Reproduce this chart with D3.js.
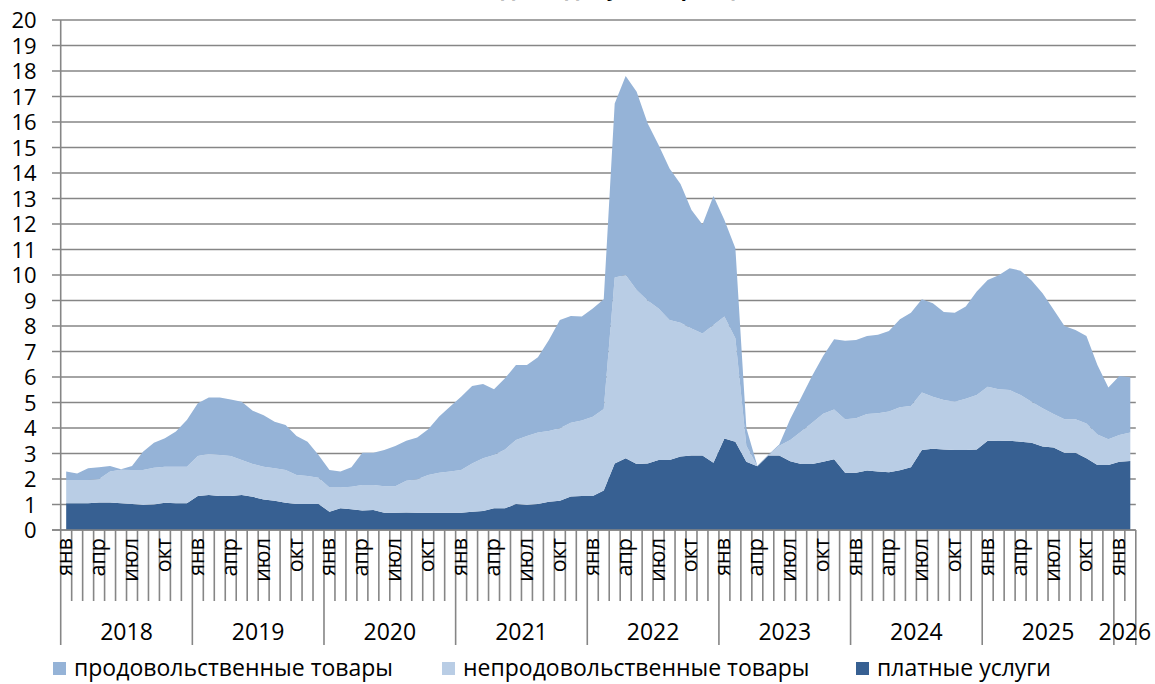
<!DOCTYPE html>
<html lang="ru">
<head>
	<meta charset="utf-8">
	<script src="https://d3js.org/d3.v7.min.js"></script>
	<style>
		body { margin: 0; background: #fff; }
		svg text { font-family: "Open Sans", sans-serif; fill: #000; }
		.grid line { stroke: #868686; stroke-width: 1.6px; }
		.xaxis line { stroke: #868686; stroke-width: 1.6px; }
		.tick-label { font-size: 22px; }
		.month-label { font-size: 21.5px; }
		.year-label { font-size: 23px; }
		.legend text { font-size: 23px; }
	</style>
	<title>Вклад в инфляцию</title>
</head>
<body>
<svg id="chart" width="1155" height="684"></svg>
<script>

// months from Jan 2018 to Feb 2026
var monthNames = ["янв", "фев", "мар", "апр", "май", "июн", "июл", "авг", "сен", "окт", "ноя", "дек"];
var years = [2018, 2019, 2020, 2021, 2022, 2023, 2024, 2025, 2026];
var monthCount = 98;

var services = [
	1.05, 1.05, 1.05, 1.08, 1.08, 1.05, 1.02, 0.98, 1.00, 1.07, 1.05, 1.05,
	1.33, 1.37, 1.33, 1.33, 1.37, 1.30, 1.20, 1.15, 1.07, 1.02, 1.02, 1.02,
	0.72, 0.85, 0.81, 0.76, 0.78, 0.68, 0.68, 0.69, 0.68, 0.68, 0.68, 0.68,
	0.68, 0.72, 0.75, 0.85, 0.85, 1.02, 0.98, 1.02, 1.11, 1.15, 1.31, 1.33,
	1.33, 1.55, 2.61, 2.81, 2.59, 2.61, 2.75, 2.75, 2.88, 2.92, 2.92, 2.64,
	3.59, 3.46, 2.68, 2.50, 2.92, 2.92, 2.70, 2.59, 2.59, 2.68, 2.77, 2.25,
	2.25, 2.33, 2.29, 2.26, 2.34, 2.46, 3.14, 3.19, 3.16, 3.14, 3.14, 3.16,
	3.50, 3.49, 3.50, 3.46, 3.42, 3.27, 3.24, 3.03, 3.03, 2.81, 2.55, 2.55,
	2.68, 2.71
];
var nonfood = [
	0.91, 0.91, 0.91, 0.92, 1.21, 1.31, 1.33, 1.37, 1.44, 1.41, 1.43, 1.43,
	1.57, 1.61, 1.61, 1.57, 1.38, 1.29, 1.28, 1.27, 1.28, 1.14, 1.10, 1.03,
	0.95, 0.82, 0.89, 1.00, 0.98, 1.04, 1.04, 1.24, 1.31, 1.48, 1.57, 1.61,
	1.67, 1.89, 2.06, 2.09, 2.31, 2.51, 2.71, 2.80, 2.77, 2.84, 2.90, 2.96,
	3.11, 3.20, 7.29, 7.19, 6.82, 6.39, 5.94, 5.49, 5.25, 4.98, 4.79, 5.40,
	4.78, 4.06, 0.62, 0.01, 0.01, 0.38, 0.83, 1.27, 1.62, 1.88, 1.96, 2.09,
	2.13, 2.22, 2.29, 2.39, 2.47, 2.40, 2.25, 2.04, 1.94, 1.89, 2.01, 2.13,
	2.12, 2.03, 1.99, 1.83, 1.61, 1.50, 1.31, 1.31, 1.31, 1.37, 1.20, 1.01,
	1.05, 1.11
];
var food = [
	0.33, 0.26, 0.46, 0.46, 0.22, 0.02, 0.16, 0.72, 0.98, 1.12, 1.38, 1.83,
	2.07, 2.22, 2.26, 2.22, 2.28, 2.09, 2.02, 1.83, 1.77, 1.53, 1.34, 0.89,
	0.68, 0.62, 0.76, 1.27, 1.27, 1.42, 1.57, 1.57, 1.64, 1.79, 2.20, 2.55,
	2.88, 3.04, 2.92, 2.58, 2.79, 2.94, 2.78, 2.95, 3.57, 4.25, 4.18, 4.08,
	4.25, 4.30, 6.83, 7.80, 7.78, 6.95, 6.41, 5.94, 5.44, 4.65, 4.27, 5.06,
	3.79, 3.53, 0.70, 0.01, 0.02, 0.05, 0.82, 1.34, 1.84, 2.26, 2.75, 3.08,
	3.07, 3.06, 3.08, 3.15, 3.45, 3.66, 3.66, 3.66, 3.45, 3.49, 3.61, 4.06,
	4.18, 4.47, 4.77, 4.88, 4.75, 4.51, 4.10, 3.66, 3.50, 3.43, 2.72, 2.03,
	2.31, 2.17
];

var seriesKeys = ["services", "nonfood", "food"];
var seriesLabels = ["платные услуги", "непродовольственные товары", "продовольственные товары"];
var titleText = "(%, вклад в годовую инфляцию)";

var color = d3.scaleOrdinal()
	.domain(seriesKeys)
	.range(["#376092", "#b9cde5", "#95b3d7"]);

var svg = d3.select("#chart");

var plotLeft = 60.7, plotRight = 1135.8, plotTop = 20, plotBottom = 530;

var x = d3.scaleBand()
	.domain(d3.range(monthCount))
	.range([plotLeft, plotRight])
	.padding(0);

var y = d3.scaleLinear()
	.domain([0, 20])
	.range([plotBottom, plotTop]);

function bx(i) { return plotLeft + i * x.step(); }

var rows = d3.range(monthCount).map(function(i) {
	return {i: i, services: services[i], nonfood: nonfood[i], food: food[i]};
});

var stacked = d3.stack().keys(seriesKeys)(rows);

// title, cut off by the top edge like in the original
svg.append("text")
	.attr("x", 592)
	.attr("y", -4)
	.attr("text-anchor", "middle")
	.style("font-size", "22px")
	.style("font-weight", "bold")
	.text(titleText);

// gridlines
svg.append("g")
	.attr("class", "grid")
	.selectAll("line")
	.data(y.ticks(20))
	.enter().append("line")
	.attr("x1", 52)
	.attr("x2", plotRight)
	.attr("y1", function(d) { return y(d); })
	.attr("y2", function(d) { return y(d); });

// areas
var area = d3.area()
	.x(function(d) { return x(d.data.i) + x.bandwidth() / 2; })
	.y0(function(d) { return y(d[0]); })
	.y1(function(d) { return y(d[1]); });

svg.append("g")
	.selectAll("path")
	.data(stacked)
	.enter().append("path")
	.attr("d", area)
	.attr("fill", function(d) { return color(d.key); });

// y axis
var yAxis = svg.append("g")
	.attr("transform", "translate(" + plotLeft + ",0)")
	.call(d3.axisLeft(y).ticks(20).tickSize(0).tickPadding(24));
yAxis.select(".domain").remove();
yAxis.selectAll("text").attr("class", "tick-label").attr("dy", "0.36em");

var xa = svg.append("g").attr("class", "xaxis");

xa.append("line")
	.attr("x1", plotLeft).attr("x2", plotLeft)
	.attr("y1", plotTop).attr("y2", plotBottom);

xa.append("line")
	.attr("x1", 52).attr("x2", plotRight)
	.attr("y1", plotBottom).attr("y2", plotBottom);

// month separators and year separators
xa.selectAll("line.sep")
	.data(d3.range(monthCount + 1))
	.enter().append("line")
	.attr("class", "sep")
	.attr("x1", function(i) { return bx(i); })
	.attr("x2", function(i) { return bx(i); })
	.attr("y1", plotBottom)
	.attr("y2", function(i) { return (i % 12 === 0 || i === monthCount) ? 645 : 601; });

xa.selectAll("text.month-label")
	.data(d3.range(monthCount).filter(function(i) { return i % 3 === 0; }))
	.enter().append("text")
	.attr("class", "month-label")
	.attr("text-anchor", "end")
	.attr("transform", function(i) {
		return "translate(" + (x(i) + x.bandwidth() / 2 + 6) + ",538) rotate(-90)";
	})
	.text(function(i) { return monthNames[i % 12]; });

xa.selectAll("text.year-label")
	.data(years)
	.enter().append("text")
	.attr("class", "year-label")
	.attr("text-anchor", "middle")
	.attr("x", function(yr, k) {
		var a = k * 12, b = Math.min(a + 12, monthCount);
		return (bx(a) + bx(b)) / 2;
	})
	.attr("y", 640)
	.text(function(yr) { return yr; });

// legend
var legendItems = [
	{key: "food", label: seriesLabels[2], x: 53},
	{key: "nonfood", label: seriesLabels[1], x: 442},
	{key: "services", label: seriesLabels[0], x: 856}
];

var legend = svg.selectAll("g.legend")
	.data(legendItems)
	.enter().append("g")
	.attr("class", "legend")
	.attr("transform", function(d) { return "translate(" + d.x + ",0)"; });

legend.append("rect")
	.attr("x", 0).attr("y", 662)
	.attr("width", 13).attr("height", 13)
	.attr("fill", function(d) { return color(d.key); });

legend.append("text")
	.attr("x", 21).attr("y", 676)
	.text(function(d) { return d.label; });

</script>
</body>
</html>
